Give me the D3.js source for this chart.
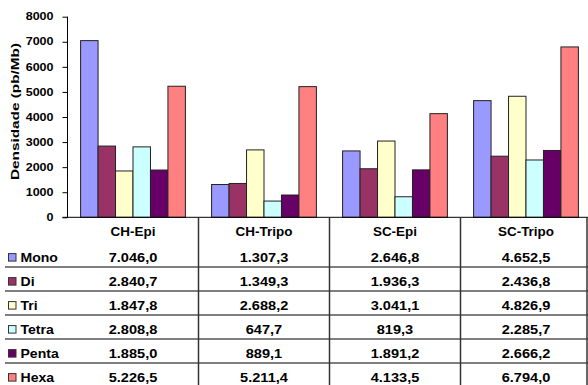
<!DOCTYPE html>
<html>
<head>
<meta charset="utf-8">
<script src="https://cdn.jsdelivr.net/npm/d3@7"></script>
<style>
  html, body { margin: 0; padding: 0; background: #fff; }
  svg { display: block; font-family: "Liberation Sans", Arial, sans-serif; font-weight: bold; }
</style>
</head>
<body>
<svg id="chart" width="588" height="385"></svg>
<script>
// Simple sequence repeat density (pb/Mb) by motif size and library
const groups = ["CH-Epi", "CH-Tripo", "SC-Epi", "SC-Tripo"];
const series = ["Mono", "Di", "Tri", "Tetra", "Penta", "Hexa"];
const colors = ["#9999FF", "#993366", "#FFFFCC", "#CCFFFF", "#660066", "#FF8080"];
const mono  = [7046.0, 1307.3, 2646.8, 4652.5];
const di    = [2840.7, 1349.3, 1936.3, 2436.8];
const tri   = [1847.8, 2688.2, 3041.1, 4826.9];
const tetra = [2808.8, 647.7, 819.3, 2285.7];
const penta = [1885.0, 889.1, 1891.2, 2666.2];
const hexa  = [5226.5, 5211.4, 4133.5, 6794.0];
const yTicks = [0, 1000, 2000, 3000, 4000, 5000, 6000, 7000, 8000];
const yTitle = "Densidade (pb/Mb)";

const values = [mono, di, tri, tetra, penta, hexa];
const fmt = v => v.toFixed(1).replace(".", ",").replace(/\B(?=(\d{3})+(?!\d))/, ".");

const svg = d3.select("#chart");

// widen glyphs horizontally by a factor
function stretch(sel, f) {
  sel.each(function () {
    const w = this.getComputedTextLength();
    d3.select(this).attr("textLength", w * f).attr("lengthAdjust", "spacingAndGlyphs");
  });
}

const x0 = d3.scaleBand().domain(groups).range([67.5, 591.5]);
const x1 = d3.scaleBand().domain(series).range([0, x0.bandwidth()]).paddingOuter(0.75);
const y = d3.scaleLinear().domain([0, 8000]).range([217.3, 16.7]);

// bars
const g = svg.append("g");
series.forEach((s, si) => {
  g.selectAll(null)
    .data(values[si].map((v, gi) => ({ g: groups[gi], v })))
    .join("rect")
    .attr("x", d => x0(d.g) + x1(s))
    .attr("y", d => y(d.v))
    .attr("width", x1.bandwidth())
    .attr("height", d => y(0) - y(d.v))
    .attr("fill", colors[si])
    .attr("stroke", "#222")
    .attr("stroke-width", 1);
});

// y axis
const yAxis = svg.append("g")
  .attr("transform", "translate(67.5,0)")
  .call(d3.axisLeft(y).tickValues(yTicks).tickFormat(d3.format("d")).tickSize(5).tickPadding(9));
yAxis.select(".domain").attr("stroke", "#000").attr("d", `M0,${y(8000)}V${y(0)}`);
yAxis.selectAll(".tick line").attr("stroke", "#000");
yAxis.selectAll("text")
  .attr("font-family", "Liberation Sans, Arial, sans-serif")
  .attr("font-weight", "bold")
  .attr("font-size", 10)
  .attr("fill", "#000")
  .call(stretch, 1.25);

// y title
svg.append("text")
  .attr("transform", "translate(18.5,111.5) rotate(-90)")
  .attr("text-anchor", "middle")
  .attr("font-size", 10.5)
  .attr("textLength", 137)
  .attr("lengthAdjust", "spacingAndGlyphs")
  .text(yTitle);

// category axis line
svg.append("line")
  .attr("x1", 62.5).attr("x2", 588).attr("y1", y(0)).attr("y2", y(0))
  .attr("stroke", "#000");

// data table below the axis
const rowTop = i => 242.6 + 24.0 * i;

// row separators
svg.selectAll(null)
  .data(series.slice(0, -1))
  .join("line")
  .attr("x1", 5).attr("x2", 588)
  .attr("y1", (d, i) => rowTop(i + 1) + 0.5).attr("y2", (d, i) => rowTop(i + 1) + 0.5)
  .attr("stroke", "#555").attr("stroke-width", 1.5);

// column dividers
const dividers = groups.slice(1).map(d => x0(d)).concat([587]);
svg.selectAll(null)
  .data(dividers)
  .join("line")
  .attr("x1", d => d).attr("x2", d => d)
  .attr("y1", y(0)).attr("y2", 385)
  .attr("stroke", "#333").attr("stroke-width", 1.5);

// group headers
svg.selectAll(null)
  .data(groups)
  .join("text")
  .attr("x", d => x0(d) + x0.bandwidth() / 2)
  .attr("y", 236.3)
  .attr("text-anchor", "middle")
  .attr("font-size", 12)
  .text(d => d)
  .call(stretch, 1.12);

// legend keys and labels
series.forEach((s, si) => {
  const base = rowTop(si) + 19;
  svg.append("rect")
    .attr("x", 8.5).attr("y", base - 8)
    .attr("width", 7.5).attr("height", 7.5)
    .attr("fill", colors[si])
    .attr("stroke", "#333").attr("stroke-width", 1);
  svg.append("text")
    .attr("x", 20.5).attr("y", base)
    .attr("font-size", 13)
    .text(s)
    .call(stretch, 1.08);
  svg.selectAll(null)
    .data(values[si].map((v, gi) => ({ g: groups[gi], v })))
    .join("text")
    .attr("x", d => x0(d.g) + x0.bandwidth() / 2)
    .attr("y", base)
    .attr("text-anchor", "middle")
    .attr("font-size", 13)
    .text(d => fmt(d.v))
    .call(stretch, 1.12);
});
</script>
</body>
</html>
